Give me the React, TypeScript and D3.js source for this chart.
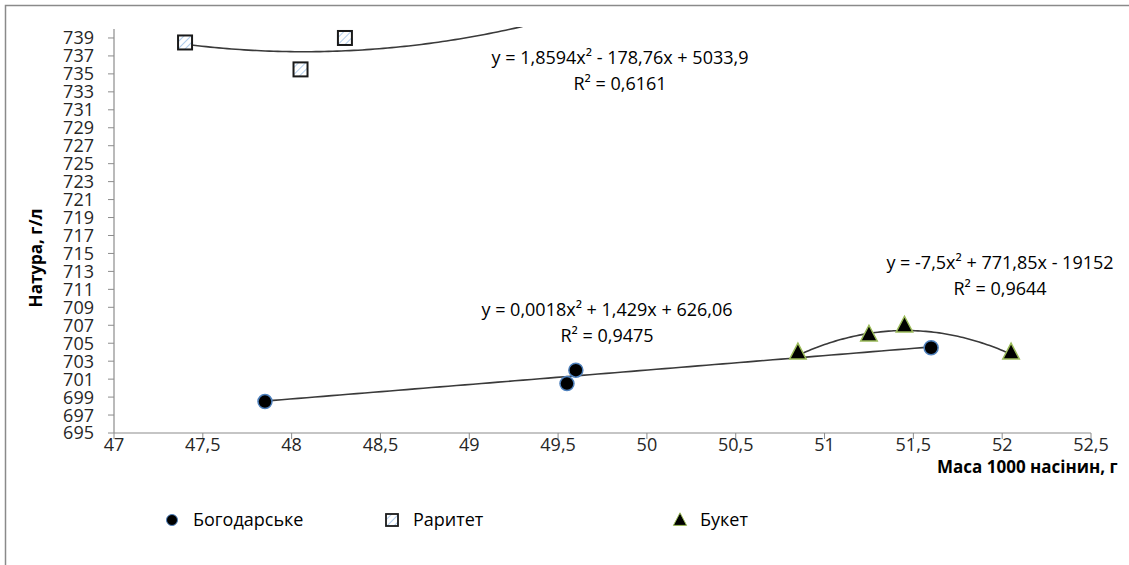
import React from 'react';
import * as d3 from 'd3';

// ---- data ----
const bogX = [47.85, 49.55, 49.6, 51.6];
const bogY = [698.5, 700.5, 702, 704.5];
const rarX = [47.4, 48.05, 48.3];
const rarY = [738.5, 735.5, 739];
const bukX = [50.85, 51.25, 51.45, 52.05];
const bukY = [704, 706, 707, 704];

// trendline coefficients (a, b, c) as printed on the chart
const bogCoef = [0.0018, 1.429, 626.06];
const rarCoef = [1.8594, -178.76, 5033.9];
const bukCoef = [-7.5, 771.85, -19152];

const xTicks = [47, 47.5, 48, 48.5, 49, 49.5, 50, 50.5, 51, 51.5, 52, 52.5];
const yTicks = [695, 697, 699, 701, 703, 705, 707, 709, 711, 713, 715, 717, 719, 721, 723, 725, 727, 729, 731, 733, 735, 737, 739];

const seriesNames = ['Богодарське', 'Раритет', 'Букет'];
const eqTexts = ['y = 0,0018x² + 1,429x + 626,06', 'y = 1,8594x² - 178,76x + 5033,9', 'y = -7,5x² + 771,85x - 19152'];
const r2Texts = ['R² = 0,9475', 'R² = 0,6161', 'R² = 0,9644'];

const W = 1129;
const H = 565;
const left = 114, right = 1091, top = 29, bottom = 433;
const FONT = "'Open Sans', 'Noto Sans', sans-serif";

export default function App() {
  const x = d3.scaleLinear().domain([47, 52.5]).range([left, right]);
  const y = d3.scaleLinear().domain([695, 740]).range([bottom, top]);

  const quad = (c: number[]) => (v: number) => c[0] * v * v + c[1] * v + c[2];
  const curve = (c: number[], x0: number, x1: number) => {
    const f = quad(c);
    const pts: [number, number][] = [];
    const n = 80;
    for (let i = 0; i <= n; i++) {
      const v = x0 + ((x1 - x0) * i) / n;
      pts.push([v, f(v)]);
    }
    return d3.line<[number, number]>().x(d => x(d[0])).y(d => y(d[1]))(pts) || '';
  };

  const tri = (cx: number, cy: number, s: number) =>
    `M${cx},${cy - s * 0.6}L${cx + s * 0.55},${cy + s * 0.45}L${cx - s * 0.55},${cy + s * 0.45}Z`;

  const axisColor = '#8c8c8c';
  const txtColor = '#262626';

  const eqPos = [
    { cx: 607, y1: 316, y2: 342 },
    { cx: 620, y1: 64, y2: 90 },
    { cx: 1000, y1: 269, y2: 295 },
  ];

  return (
    <svg width={W} height={H} style={{ position: 'absolute', left: 0, top: 0, fontFamily: FONT }}>
      <defs>
        <clipPath id="plotclip">
          <rect x={left} y={top - 2} width={right - left} height={bottom - top + 2} />
        </clipPath>
        <pattern id="hatch" patternUnits="userSpaceOnUse" width="5" height="5" patternTransform="rotate(45)">
          <rect width="5" height="5" fill="#ffffff" />
          <line x1="0" y1="0" x2="0" y2="5" stroke="#9dc0e8" strokeWidth="1.6" />
        </pattern>
      </defs>
      <rect x={0} y={0} width={W} height={H} fill="#fff" />
      {/* chart border */}
      <rect x={5.5} y={5.5} width={W + 20} height={H + 20} fill="none" stroke="#8a8a8a" strokeWidth={1.5} />

      {/* axes */}
      <line x1={left} x2={left} y1={top} y2={bottom} stroke={axisColor} strokeWidth={1.2} />
      <line x1={left} x2={right} y1={bottom} y2={bottom} stroke={axisColor} strokeWidth={1.2} />
      {yTicks.map(t => (
        <g key={'y' + t}>
          <line x1={left - 6} x2={left} y1={y(t)} y2={y(t)} stroke={axisColor} />
          <text x={left - 20} y={y(t)} dy="0.36em" textAnchor="end" fontSize={18} fill={txtColor}>{t}</text>
        </g>
      ))}
      {xTicks.map(t => (
        <g key={'x' + t}>
          <line x1={x(t)} x2={x(t)} y1={bottom} y2={bottom + 6} stroke={axisColor} />
          <text x={x(t)} y={bottom + 12} dy="0.36em" textAnchor="middle" fontSize={18} fill={txtColor}>
            {String(t).replace('.', ',')}
          </text>
        </g>
      ))}

      {/* axis titles */}
      <text transform={`translate(42,258) rotate(-90)`} textAnchor="middle" fontSize={17} fontWeight="bold" fill="#000">Натура, г/л</text>
      <text x={937} y={473} textAnchor="start" fontSize={17} fontWeight="bold" fill="#000">Маса 1000 насінин, г</text>

      {/* trendlines */}
      <g clipPath="url(#plotclip)" fill="none" stroke="#3a3a3a" strokeWidth={1.6}>
        <path d={curve(bogCoef, bogX[0], bogX[bogX.length - 1])} />
        <path d={curve(rarCoef, rarX[0], rarX[rarX.length - 1] + 1)} />
        <path d={curve(bukCoef, bukX[0], bukX[bukX.length - 1])} />
      </g>

      {/* markers */}
      {rarX.map((v, i) => (
        <rect key={'r' + i} x={x(v) - 7} y={y(rarY[i]) - 7} width={14} height={14} fill="url(#hatch)" stroke="#1a1a1a" strokeWidth={2} />
      ))}
      {bogX.map((v, i) => (
        <circle key={'b' + i} cx={x(v)} cy={y(bogY[i])} r={7} fill="#000" stroke="#4f81bd" strokeWidth={1.5} />
      ))}
      {bukX.map((v, i) => (
        <path key={'k' + i} d={tri(x(v), y(bukY[i]), 15)} fill="#000" stroke="#9bbb59" strokeWidth={1.5} />
      ))}

      {/* equations */}
      {eqPos.map((p, i) => (
        <g key={'eq' + i} fontSize={18} fill="#000" textAnchor="middle">
          <text x={p.cx} y={p.y1}>{eqTexts[i]}</text>
          <text x={p.cx} y={p.y2}>{r2Texts[i]}</text>
        </g>
      ))}

      {/* legend */}
      <g fontSize={18} fill="#000">
        <circle cx={172} cy={520} r={5.5} fill="#000" stroke="#4f81bd" strokeWidth={1} />
        <text x={193} y={520} dy="0.36em">{seriesNames[0]}</text>
        <rect x={386} y={514} width={12} height={12} fill="url(#hatch)" stroke="#1a1a1a" strokeWidth={1.8} />
        <text x={413} y={520} dy="0.36em">{seriesNames[1]}</text>
        <path d={tri(680, 520, 12)} fill="#000" stroke="#9bbb59" strokeWidth={1} />
        <text x={700} y={520} dy="0.36em">{seriesNames[2]}</text>
      </g>
    </svg>
  );
}
